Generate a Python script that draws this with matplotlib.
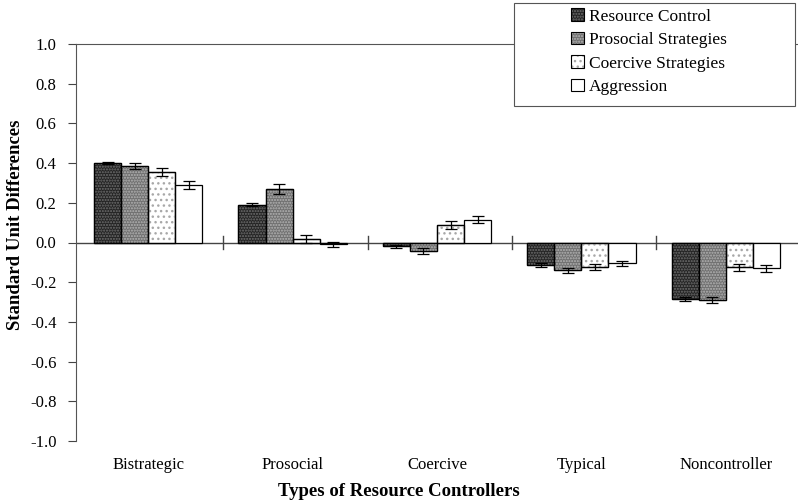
import matplotlib
matplotlib.use("Agg")
from matplotlib import pyplot as plt
from matplotlib.patches import Patch, Rectangle
from matplotlib.legend_handler import HandlerTuple
import numpy as np

plt.rcParams['font.family'] = ['Liberation Serif', 'DejaVu Serif']
plt.rcParams['hatch.linewidth'] = 1.0

categories = ["Bistrategic", "Prosocial", "Coercive", "Typical", "Noncontroller"]
series = ["Resource Control", "Prosocial Strategies", "Coercive Strategies", "Aggression"]
resource_control = [0.40, 0.19, -0.02, -0.115, -0.285]
prosocial_strat = [0.385, 0.27, -0.045, -0.14, -0.29]
coercive_strat = [0.355, 0.02, 0.09, -0.125, -0.125]
aggression = [0.29, -0.01, 0.115, -0.105, -0.13]
err_rc = [0.005, 0.008, 0.008, 0.01, 0.008]
err_ps = [0.017, 0.025, 0.015, 0.013, 0.015]
err_cs = [0.02, 0.02, 0.02, 0.015, 0.018]
err_ag = [0.02, 0.015, 0.017, 0.013, 0.018]

values = [resource_control, prosocial_strat, coercive_strat, aggression]
errors = [err_rc, err_ps, err_cs, err_ag]
faces = ["#242424", "#707070", "#ffffff", "#ffffff"]
hatches = ["......", "......", "...", None]
hatch_cols = ["#707070", "#b4b4b4", "#a8a8a8", None]

fig = plt.figure(figsize=(7.98, 5.03), dpi=100)
ax = fig.add_axes([76 / 798, 1 - 441 / 503, 722 / 798, 397 / 503])

x = np.arange(len(categories))
w = 0.1875
for i in range(4):
    pos = x + (i - 1.5) * w
    ax.bar(pos, values[i], w, color=faces[i], edgecolor="black", linewidth=0.9, zorder=2)
    if hatches[i]:
        ax.bar(pos, values[i], w, fill=False, hatch=hatches[i], edgecolor=hatch_cols[i],
               linewidth=0, zorder=3)
        ax.bar(pos, values[i], w, fill=False, edgecolor="black", linewidth=0.9, zorder=4)
    ax.errorbar(pos, values[i], yerr=errors[i], fmt="none", ecolor="black",
                elinewidth=0.9, capsize=4.5, capthick=0.9, zorder=5)

ax.set_xlim(-0.5, 4.5)
ax.set_ylim(-1.0, 1.0)
yt = np.round(np.arange(-1.0, 1.01, 0.2), 1)
ax.set_yticks(yt)
ax.set_yticklabels(["%.1f" % (v + 0.0) for v in yt], fontsize=12)
ax.tick_params(axis="y", direction="out", length=6, width=0.8, pad=8, color="#444444")
ax.set_xticks([])

ax.axhline(0, color="#444444", linewidth=1.0, zorder=1)
for b in np.arange(0.5, 4.5, 1.0):
    ax.plot([b + 0.02, b + 0.02], [-0.035, 0.035], color="#444444", linewidth=1.0, zorder=1)
for xi, c in zip(x, categories):
    ax.text(xi, -1.12, c, ha="center", va="center", fontsize=12)

ax.spines["right"].set_visible(False)
ax.spines["bottom"].set_visible(False)
ax.spines["top"].set_color("#555555")
ax.spines["left"].set_color("#555555")
ax.spines["top"].set_linewidth(0.8)
ax.spines["left"].set_linewidth(0.8)

fig.text(16 / 798, 1 - 225 / 503, "Standard Unit Differences", rotation=90, ha="center",
         va="center", fontsize=13.5, fontweight="bold")
fig.text(0.5, 1 - 491 / 503, "Types of Resource Controllers", ha="center", va="center",
         fontsize=13.5, fontweight="bold")

# legend box
box = Rectangle((514 / 798, 1 - 106 / 503), 281 / 798, 103 / 503, transform=fig.transFigure,
                facecolor="white", edgecolor="#555555", linewidth=0.8, zorder=10)
fig.patches.append(box)
handles = []
for i in range(4):
    if hatches[i]:
        handles.append((Patch(facecolor=faces[i], edgecolor=hatch_cols[i], hatch=hatches[i], linewidth=0),
                        Patch(fill=False, edgecolor="black", linewidth=0.8)))
    else:
        handles.append(Patch(facecolor=faces[i], edgecolor="black", linewidth=0.8))
leg = fig.legend(handles, series, loc="upper left", bbox_to_anchor=(568 / 798, 1 - 5 / 503),
                 frameon=False, fontsize=12.5, handlelength=0.7, handleheight=0.7,
                 handletextpad=0.3, labelspacing=0.42, borderpad=0.2, borderaxespad=0,
                 handler_map={tuple: HandlerTuple(ndivide=1, pad=0)})
leg.set_zorder(11)

fig.savefig("out.png", dpi=100)
